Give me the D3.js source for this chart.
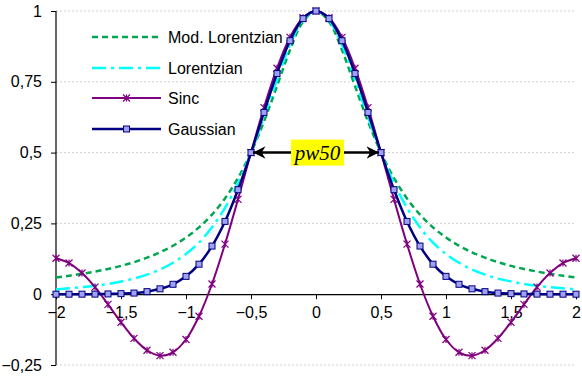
<!DOCTYPE html>
<html>
<head>
<meta charset="utf-8">
<script src="https://cdn.jsdelivr.net/npm/d3@7"></script>
<style>
    body { margin: 0; background: #fff; }
    svg text { font-family: "Liberation Sans", Arial, sans-serif; }
</style>
</head>
<body>
<div id="chart"></div>
<script>
// ---------------------------------- Data ----------------------------------
// x values from 0 to 2 (step 0.1), curves are symmetric around 0
var xHalf = [0, 0.1, 0.2, 0.3, 0.4, 0.5, 0.6, 0.7, 0.8, 0.9, 1, 1.1, 1.2, 1.3, 1.4, 1.5, 1.6, 1.7, 1.8, 1.9, 2];
var modLorentzian = [1, 0.962, 0.862, 0.735, 0.610, 0.5, 0.410, 0.338, 0.281, 0.236, 0.2, 0.171, 0.148, 0.129, 0.113, 0.1, 0.089, 0.080, 0.072, 0.065, 0.059];
var lorentzian = [1, 0.968, 0.880, 0.757, 0.625, 0.5, 0.392, 0.305, 0.236, 0.182, 0.142, 0.111, 0.087, 0.069, 0.055, 0.045, 0.036, 0.030, 0.025, 0.021, 0.017];
var sinc = [1, 0.976, 0.907, 0.798, 0.659, 0.5, 0.335, 0.177, 0.036, -0.078, -0.160, -0.205, -0.217, -0.198, -0.156, -0.099, -0.036, 0.025, 0.075, 0.110, 0.127];
var gaussian = [1, 0.973, 0.895, 0.779, 0.642, 0.5, 0.369, 0.257, 0.170, 0.106, 0.063, 0.035, 0.019, 0.009, 0.004, 0.002, 0.001, 0.0003, 0.0001, 0, 0];

var xTicks = [-2, -1.5, -1, -0.5, 0, 0.5, 1, 1.5, 2];
var yTicks = [-0.25, 0, 0.25, 0.5, 0.75, 1];
var seriesNames = ["Mod. Lorentzian", "Lorentzian", "Sinc", "Gaussian"];

// build full -2..2 data from the symmetric halves
function mirror(values) {
    var pts = [];
    for (var i = xHalf.length - 1; i > 0; i--) {
        pts.push({ x: -xHalf[i], y: values[i] });
    }
    for (var i = 0; i < xHalf.length; i++) {
        pts.push({ x: xHalf[i], y: values[i] });
    }
    return pts;
}

var series = [
    { name: seriesNames[0], pts: mirror(modLorentzian), color: "#00a650", width: 2.5, dash: "6,4", marker: null },
    { name: seriesNames[1], pts: mirror(lorentzian), color: "#00ffff", width: 2.5, dash: "14,5,3,5", marker: null },
    { name: seriesNames[2], pts: mirror(sinc), color: "#800080", width: 2, dash: null, marker: "star" },
    { name: seriesNames[3], pts: mirror(gaussian), color: "#000080", width: 2.5, dash: null, marker: "square" }
];

// ---------------------------------- Chart ----------------------------------
var width = 582, height = 377;
var svg = d3.select("#chart").append("svg")
    .attr("width", width)
    .attr("height", height);

var x = d3.scaleLinear().domain([-2, 2]).range([56, 576]);
var y = d3.scaleLinear().domain([-0.25, 1]).range([365, 11]);

// gridlines
svg.append("g")
    .selectAll("line")
    .data(yTicks.filter(function (d) { return d != 0; }))
    .enter()
    .append("line")
    .attr("x1", x(-2))
    .attr("x2", x(2))
    .attr("y1", function (d) { return y(d); })
    .attr("y2", function (d) { return y(d); })
    .attr("stroke", "#d0d0d0")
    .attr("stroke-dasharray", "2,2");

var commaFormat = function (d) { return d3.format("")(d).replace(".", ","); };

// y axis
var yAxis = svg.append("g")
    .attr("transform", "translate(" + x(-2) + ",0)")
    .call(d3.axisLeft(y).tickValues(yTicks).tickSize(5).tickPadding(9).tickFormat(commaFormat));

// x axis at y = 0
var xAxis = svg.append("g")
    .attr("transform", "translate(0," + y(0) + ")")
    .call(d3.axisBottom(x).tickValues(xTicks).tickSize(5).tickPadding(7).tickFormat(commaFormat));

[yAxis, xAxis].forEach(function (ax) {
    ax.attr("font-size", 16).attr("font-family", "'Liberation Sans', Arial, sans-serif");
    ax.select(".domain").attr("stroke", "#000").attr("stroke-width", 1.2);
    ax.selectAll(".tick line").attr("stroke", "#000");
    ax.selectAll(".tick text").attr("fill", "#000");
});
yAxis.select(".domain").attr("d", "M0," + y(1) + "V" + y(-0.25));

// lines
var line = d3.line()
    .x(function (d) { return x(d.x); })
    .y(function (d) { return y(d.y); })
    .curve(d3.curveCatmullRom);

function drawMarker(g, type, cx, cy, color) {
    if (type == "square") {
        g.append("rect")
            .attr("x", cx - 3).attr("y", cy - 3)
            .attr("width", 6).attr("height", 6)
            .attr("fill", "#a0a0f4")
            .attr("stroke", "#000080")
            .attr("stroke-width", 1);
    }
    else if (type == "star") {
        var s = 3.5;
        g.append("path")
            .attr("d", "M" + (cx - s) + "," + (cy - s) + "L" + (cx + s) + "," + (cy + s) +
                "M" + (cx - s) + "," + (cy + s) + "L" + (cx + s) + "," + (cy - s) +
                "M" + cx + "," + (cy - s) + "L" + cx + "," + (cy + s))
            .attr("stroke", color)
            .attr("stroke-width", 1.2)
            .attr("fill", "none");
    }
}

series.forEach(function (s) {
    var g = svg.append("g");
    g.append("path")
        .datum(s.pts)
        .attr("d", line)
        .attr("fill", "none")
        .attr("stroke", s.color)
        .attr("stroke-width", s.width)
        .attr("stroke-dasharray", s.dash);
    if (s.marker) {
        s.pts.forEach(function (p) {
            drawMarker(g, s.marker, x(p.x), y(p.y), s.color);
        });
    }
});

// ---------------------------------- Legend ----------------------------------
var legendY = [37, 68, 98, 129];
series.forEach(function (s, i) {
    var g = svg.append("g");
    g.append("line")
        .attr("x1", 92).attr("x2", 161)
        .attr("y1", legendY[i]).attr("y2", legendY[i])
        .attr("stroke", s.color)
        .attr("stroke-width", s.width)
        .attr("stroke-dasharray", s.dash);
    if (s.marker) {
        drawMarker(g, s.marker, 126.5, legendY[i], s.color);
    }
    g.append("text")
        .attr("x", 168)
        .attr("y", legendY[i] + 5.5)
        .attr("font-size", 16)
        .text(s.name);
});

// ---------------------------------- pw50 annotation ----------------------------------
var defs = svg.append("defs");
defs.append("marker")
    .attr("id", "arrow")
    .attr("viewBox", "0 0 10 10")
    .attr("refX", 10).attr("refY", 5)
    .attr("markerWidth", 5).attr("markerHeight", 5)
    .attr("orient", "auto-start-reverse")
    .append("path")
    .attr("d", "M0,0L10,5L0,10L3,5Z")
    .attr("fill", "#000");

svg.append("line")
    .attr("x1", x(-0.5) + 2).attr("x2", x(0.5) - 2)
    .attr("y1", y(0.5)).attr("y2", y(0.5))
    .attr("stroke", "#000")
    .attr("stroke-width", 2.5)
    .attr("marker-start", "url(#arrow)")
    .attr("marker-end", "url(#arrow)");

svg.append("rect")
    .attr("x", x(0) - 25).attr("y", y(0.5) - 13)
    .attr("width", 53).attr("height", 26)
    .attr("fill", "#ffff00");

svg.append("text")
    .attr("x", x(0) + 1.5)
    .attr("y", y(0.5) + 7)
    .attr("text-anchor", "middle")
    .style("font-family", "'Liberation Serif', 'Times New Roman', serif")
    .style("font-style", "italic")
    .style("font-size", "21px")
    .text("pw50");
</script>
</body>
</html>
